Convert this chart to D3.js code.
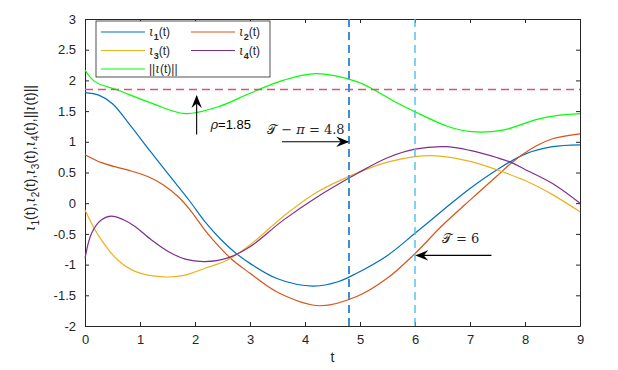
<!DOCTYPE html>
<meta charset="utf-8">
<style>
    body { margin: 0; background: #fff; }
    text { font-family: "Liberation Sans", Arial, sans-serif; fill: #262626; }
    .axis path, .axis line { stroke: #262626; }
    .curve { fill: none; stroke-width: 1.2; }
    .mth { font-family: "DejaVu Serif", "Liberation Serif", serif; }
    .it { font-style: italic; }
</style>
<body>
<svg width="618" height="370"></svg>
<script src="https://d3js.org/d3.v7.min.js"></script>
<script>
// values (t, value)
var tIota1 = [0, 0.25, 0.5, 0.82, 1.2, 1.58, 1.9, 2.18, 2.48, 2.75, 3, 3.5, 4.15, 4.6, 4.94, 5.5, 6, 6.5, 7, 7.5, 8, 8.5, 9];
var iota1 = [1.80, 1.76, 1.62, 1.27, 0.83, 0.40, 0.04, -0.30, -0.60, -0.82, -0.98, -1.23, -1.35, -1.28, -1.14, -0.85, -0.49, -0.12, 0.24, 0.55, 0.80, 0.92, 0.95];

var tIota2 = [0, 0.3, 0.6, 0.82, 1.15, 1.42, 1.7, 1.91, 2.18, 2.33, 2.65, 3, 3.5, 4.27, 4.94, 5.5, 6, 6.5, 7, 7.5, 7.76, 8.2, 8.5, 9];
var iota2 = [0.79, 0.66, 0.58, 0.53, 0.43, 0.30, 0.10, -0.11, -0.44, -0.60, -0.90, -1.14, -1.45, -1.67, -1.52, -1.22, -0.82, -0.36, 0.05, 0.45, 0.66, 0.93, 1.05, 1.13];

var tIota3 = [0, 0.24, 0.6, 0.91, 1.42, 1.82, 2.18, 2.6, 3, 3.6, 4.2, 4.94, 5.5, 6, 6.4, 7, 7.5, 8, 8.5, 9];
var iota3 = [-0.11, -0.52, -0.93, -1.11, -1.20, -1.17, -1.06, -0.92, -0.68, -0.22, 0.17, 0.49, 0.67, 0.76, 0.77, 0.68, 0.54, 0.37, 0.14, -0.14];

var tIota4 = [0, 0.12, 0.3, 0.48, 0.7, 0.91, 1.21, 1.52, 1.82, 2.18, 2.6, 3, 3.6, 4.2, 4.94, 5.5, 6, 6.55, 7, 7.5, 7.76, 8, 8.5, 9];
var iota4 = [-0.90, -0.49, -0.27, -0.21, -0.27, -0.38, -0.60, -0.79, -0.91, -0.95, -0.89, -0.71, -0.28, 0.09, 0.48, 0.74, 0.88, 0.92, 0.86, 0.74, 0.66, 0.55, 0.32, 0.0];

var tNorm = [0, 0.18, 0.6, 1.21, 1.82, 2.42, 3, 3.6, 4.2, 4.94, 5.27, 5.6, 6, 6.6, 7.03, 7.6, 8.2, 8.6, 9];
var norm = [2.17, 1.98, 1.84, 1.63, 1.46, 1.57, 1.79, 2.00, 2.11, 1.98, 1.84, 1.67, 1.49, 1.25, 1.165, 1.19, 1.36, 1.43, 1.46];

var rho = 1.85;
var tMinusPi = 4.8;
var bigT = 6;

var xTicks = [0, 1, 2, 3, 4, 5, 6, 7, 8, 9];
var yTicks = [-2, -1.5, -1, -0.5, 0, 0.5, 1, 1.5, 2, 2.5, 3];

var svg = d3.select("svg"),
    margin = { top: 19, right: 38, bottom: 44, left: 85 },
    width = 618 - margin.left - margin.right,
    height = 370 - margin.top - margin.bottom;

var x = d3.scaleLinear().domain([0, 9]).range([0, width]),
    y = d3.scaleLinear().domain([-2, 3]).range([height, 0]);

var g = svg.append("g")
    .attr("transform", "translate(" + margin.left + "," + margin.top + ")");

svg.append("defs").append("marker")
    .attr("id", "head")
    .attr("viewBox", "0 0 10 10")
    .attr("refX", 9).attr("refY", 5)
    .attr("markerWidth", 13).attr("markerHeight", 13)
    .attr("markerUnits", "userSpaceOnUse")
    .attr("orient", "auto")
    .append("path")
    .attr("d", "M0,1 L10,5 L0,9 L3.5,5 Z")
    .attr("fill", "#000");

// axes, ticks inward on all sides
function fmt(d) { return String(d); }
g.append("g").attr("class", "axis")
    .attr("transform", "translate(0," + height + ")")
    .call(d3.axisBottom(x).tickValues(xTicks).tickFormat(fmt).tickSizeInner(-4).tickSizeOuter(0).tickPadding(9))
    .call(function (s) { s.selectAll("text").attr("font-size", 13); });
g.append("g").attr("class", "axis")
    .call(d3.axisTop(x).tickValues(xTicks).tickFormat("").tickSizeInner(-4).tickSizeOuter(0));
g.append("g").attr("class", "axis")
    .call(d3.axisLeft(y).tickValues(yTicks).tickFormat(fmt).tickSizeInner(-4).tickSizeOuter(0).tickPadding(9))
    .call(function (s) { s.selectAll("text").attr("font-size", 13); });
g.append("g").attr("class", "axis")
    .attr("transform", "translate(" + width + ",0)")
    .call(d3.axisRight(y).tickValues(yTicks).tickFormat("").tickSizeInner(-4).tickSizeOuter(0));

var series = [
    { t: tIota1, v: iota1, color: "#0072BD" },
    { t: tIota2, v: iota2, color: "#D95319" },
    { t: tIota3, v: iota3, color: "#EDB120" },
    { t: tIota4, v: iota4, color: "#7E2F8E" },
    { t: tNorm, v: norm, color: "#00FF00" }
];

var line = d3.line()
    .curve(d3.curveCatmullRom.alpha(0.5))
    .x(function (d) { return x(d[0]); })
    .y(function (d) { return y(d[1]); });

series.forEach(function (s) {
    g.append("path")
        .datum(d3.zip(s.t, s.v))
        .attr("class", "curve")
        .attr("stroke", s.color)
        .attr("d", line);
});

// reference lines
g.append("line")
    .attr("x1", 0).attr("x2", width)
    .attr("y1", y(rho)).attr("y2", y(rho))
    .attr("stroke", "#E0507A").attr("stroke-width", 1.5)
    .attr("stroke-dasharray", "8,5");
g.append("line")
    .attr("x1", x(tMinusPi)).attr("x2", x(tMinusPi))
    .attr("y1", 0).attr("y2", height)
    .attr("stroke", "#3F8FD0").attr("stroke-width", 2)
    .attr("stroke-dasharray", "8,5");
g.append("line")
    .attr("x1", x(bigT)).attr("x2", x(bigT))
    .attr("y1", 0).attr("y2", height)
    .attr("stroke", "#4DBEEE").attr("stroke-width", 1.4)
    .attr("stroke-dasharray", "8,5");

// annotations
function arrow(x1, y1, x2, y2) {
    g.append("line")
        .attr("x1", x(x1)).attr("y1", y(y1))
        .attr("x2", x(x2)).attr("y2", y(y2))
        .attr("stroke", "#000").attr("stroke-width", 1.1)
        .attr("marker-end", "url(#head)");
}
arrow(2.03, 1.12, 2.03, 1.74);
arrow(3.58, 1.0, 4.78, 1.0);
arrow(7.39, -0.85, 6.03, -0.85);

var rt = g.append("text").attr("x", x(2.28)).attr("y", y(1.21)).attr("font-size", 13);
rt.append("tspan").attr("class", "mth it").text("ρ");
rt.append("tspan").attr("fill", "#000").text("=1.85");

var t1 = g.append("text").attr("class", "mth")
    .attr("x", x(3.31)).attr("y", y(1.13)).attr("font-size", 13).attr("fill", "#333");
t1.append("tspan").text("𝒯 − ");
t1.append("tspan").attr("class", "it").text("π");
t1.append("tspan").text(" = 4.8");
g.append("text").attr("class", "mth")
    .attr("x", x(6.49)).attr("y", y(-0.65)).attr("font-size", 13).attr("fill", "#333")
    .text("𝒯 = 6");

// axis titles
svg.append("text")
    .attr("x", margin.left + x(4.5)).attr("y", 362)
    .attr("text-anchor", "middle").attr("font-size", 14)
    .text("t");

var yl = svg.append("text")
    .attr("transform", "translate(35,158) rotate(-90)")
    .attr("text-anchor", "middle").attr("font-size", 14);
[1, 2, 3, 4].forEach(function (k) {
    yl.append("tspan").attr("class", "mth it").text("ι");
    yl.append("tspan").attr("font-size", 10).attr("dy", 4).text(k);
    yl.append("tspan").attr("dy", -4).text("(t),");
});
yl.append("tspan").text("||");
yl.append("tspan").attr("class", "mth it").text("ι");
yl.append("tspan").text("(t)||");

// legend
var lg = g.append("g").attr("transform", "translate(" + (x(0.2)) + "," + 2 + ")");
lg.append("rect").attr("width", 174).attr("height", 56)
    .attr("fill", "#fff").attr("stroke", "#262626").attr("stroke-width", 0.8);
var legendItems = [
    { sub: "1", col: 0, row: 0 }, { sub: "2", col: 1, row: 0 },
    { sub: "3", col: 0, row: 1 }, { sub: "4", col: 1, row: 1 },
    { sub: null, col: 0, row: 2 }
];
legendItems.forEach(function (d, i) {
    var ox = d.col * 90, oy = 11 + d.row * 18.5;
    lg.append("line")
        .attr("x1", ox + 5).attr("x2", ox + 49)
        .attr("y1", oy).attr("y2", oy)
        .attr("stroke", series[i].color).attr("stroke-width", 1.2);
    var tx = lg.append("text").attr("x", ox + 53).attr("y", oy + 4).attr("font-size", 12);
    if (d.sub) {
        tx.append("tspan").attr("class", "mth it").text("ι");
        tx.append("tspan").attr("font-size", 9).attr("font-weight", "bold").attr("dy", 4).text(d.sub);
        tx.append("tspan").attr("dy", -4).text("(t)");
    } else {
        tx.append("tspan").text("||");
        tx.append("tspan").attr("class", "mth it").text("ι");
        tx.append("tspan").text("(t)||");
    }
});
</script>
</body>
